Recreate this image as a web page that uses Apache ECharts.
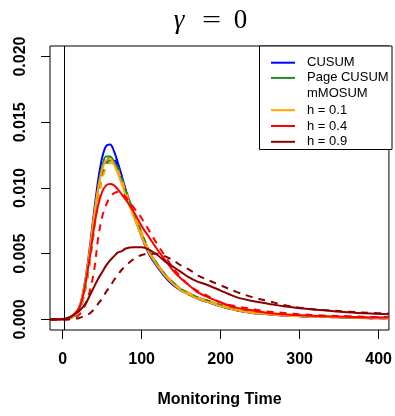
<!DOCTYPE html>
<html>
<head>
<meta charset="utf-8">
<script src="https://cdn.jsdelivr.net/npm/echarts@6/dist/echarts.min.js"></script>
<style>
  html, body { margin: 0; padding: 0; background: #fff; }
  #chart { width: 395px; height: 416px; }
</style>
</head>
<body>
<div id="chart"></div>
<script>
// monitoring time grid
const times = [-16, 0, 10, 20, 25, 30, 35, 40, 45, 50, 55, 60, 65, 70, 75, 80, 90, 100, 110, 120,
  130, 140, 150, 160, 170, 180, 200, 220, 240, 260, 280, 300, 330, 360, 390, 413];

// densities
const cusumSolid = [0, 0.00002, 0.0001, 0.0008, 0.0018, 0.0035, 0.0058, 0.0083, 0.0106, 0.0123, 0.0132, 0.0133, 0.0128, 0.0119, 0.0109, 0.0098, 0.0080, 0.0063, 0.0049, 0.0040,
  0.0032, 0.0026, 0.0022, 0.0019, 0.0016, 0.0014, 0.0010, 0.0007, 0.0005, 0.0004, 0.0003, 0.00025, 0.0002, 0.00015, 0.0001, 0.0001];
const cusumDashed = [0, 0.00002, 0.0001, 0.0006, 0.0014, 0.0028, 0.0048, 0.0072, 0.0095, 0.0112, 0.0120, 0.0123, 0.0122, 0.0116, 0.0108, 0.0098, 0.0081, 0.0065, 0.0051, 0.0041,
  0.0033, 0.0027, 0.0022, 0.0019, 0.0016, 0.0014, 0.0010, 0.0007, 0.0005, 0.0004, 0.0003, 0.00025, 0.0002, 0.00015, 0.0001, 0.0001];
const pageSolid = [0, 0.00002, 0.0001, 0.0007, 0.0016, 0.0032, 0.0054, 0.0078, 0.0100, 0.0116, 0.0124, 0.0124, 0.0120, 0.0113, 0.0105, 0.0096, 0.0080, 0.0065, 0.0051, 0.0042,
  0.0034, 0.0028, 0.0023, 0.0020, 0.0017, 0.0015, 0.0011, 0.0008, 0.0006, 0.00045, 0.00035, 0.0003, 0.00022, 0.00017, 0.00013, 0.00012];
const pageDashed = [0, 0.00002, 0.0001, 0.0006, 0.0013, 0.0027, 0.0046, 0.0069, 0.0091, 0.0108, 0.0117, 0.0121, 0.0120, 0.0115, 0.0107, 0.0098, 0.0082, 0.0066, 0.0052, 0.0042,
  0.0034, 0.0028, 0.0023, 0.0020, 0.0017, 0.0015, 0.0011, 0.0008, 0.0006, 0.00045, 0.00035, 0.0003, 0.00022, 0.00017, 0.00013, 0.00012];
const h01Solid = [0, 0.00002, 0.0001, 0.0008, 0.0018, 0.0034, 0.0056, 0.0080, 0.0100, 0.0114, 0.0121, 0.0122, 0.0118, 0.0111, 0.0103, 0.0094, 0.0078, 0.0063, 0.0050, 0.0041,
  0.0033, 0.0027, 0.0022, 0.0019, 0.0016, 0.0014, 0.0010, 0.0007, 0.0005, 0.0004, 0.0003, 0.00025, 0.0002, 0.00015, 0.00012, 0.0001];
const h01Dashed = [0, 0.00002, 0.0001, 0.0006, 0.0014, 0.0028, 0.0047, 0.0070, 0.0091, 0.0107, 0.0115, 0.0119, 0.0118, 0.0113, 0.0106, 0.0097, 0.0081, 0.0066, 0.0052, 0.0042,
  0.0034, 0.0028, 0.0023, 0.0020, 0.0017, 0.0015, 0.0011, 0.0008, 0.0006, 0.00045, 0.00035, 0.0003, 0.00022, 0.00017, 0.00013, 0.00012];
const h04Solid = [0, 0.00003, 0.0002, 0.0008, 0.0016, 0.0031, 0.0050, 0.0071, 0.0087, 0.0097, 0.0102, 0.0103, 0.0102, 0.0099, 0.0095, 0.0091, 0.0082, 0.0071, 0.0062, 0.0053,
  0.0045, 0.0037, 0.0031, 0.0026, 0.0021, 0.0018, 0.0013, 0.0009, 0.0007, 0.0005, 0.0004, 0.00033, 0.00025, 0.0002, 0.00016, 0.00015];
const h04Dashed = [0, 0, 0.00005, 0.0003, 0.0007, 0.0013, 0.0023, 0.0038, 0.0062, 0.0078, 0.0087, 0.0093, 0.0096, 0.0097, 0.0096, 0.0093, 0.0085, 0.0077, 0.0067, 0.0057,
  0.0048, 0.0039, 0.0032, 0.0026, 0.0022, 0.0019, 0.0013, 0.0010, 0.0008, 0.0006, 0.0005, 0.0004, 0.0003, 0.00025, 0.0002, 0.00018];
const h09Solid = [0, 0.00003, 0.0002, 0.0006, 0.0009, 0.0013, 0.0019, 0.0025, 0.0031, 0.0036, 0.0041, 0.0045, 0.0048, 0.0051, 0.0052, 0.0054, 0.0055, 0.0055, 0.0053, 0.0049,
  0.0044, 0.0040, 0.0036, 0.0032, 0.0029, 0.0027, 0.0022, 0.0017, 0.0014, 0.0012, 0.0010, 0.00085, 0.0007, 0.00055, 0.00045, 0.0004];
const h09Dashed = [0, 0, 0.00002, 0.0001, 0.0002, 0.0003, 0.0005, 0.0008, 0.0012, 0.0016, 0.0021, 0.0025, 0.0030, 0.0034, 0.0038, 0.0041, 0.0046, 0.0049, 0.0050, 0.0050,
  0.0048, 0.0045, 0.0041, 0.0038, 0.0034, 0.0031, 0.0026, 0.0021, 0.0017, 0.0014, 0.0011, 0.0009, 0.00072, 0.0006, 0.0005, 0.00045];

const xTicks = [0, 100, 200, 300, 400];
const yTicks = [0, 0.005, 0.010, 0.015, 0.020];
const changePoint = 2.5;

const legendItems = [
  {name: 'CUSUM', color: '#0000ff'},
  {name: 'Page CUSUM', color: '#228b22'},
  {name: 'mMOSUM', color: null},
  {name: 'h = 0.1', color: '#ffa500'},
  {name: 'h = 0.4', color: '#ff0000'},
  {name: 'h = 0.9', color: '#8b0000'}
];

function makeSerie(name, values, color, dashed) {
  return {
    name: name,
    type: 'line',
    data: times.map((t, i) => [t, values[i]]),
    smooth: 0.35,
    showSymbol: false,
    silent: true,
    lineStyle: {color: color, width: 2, type: dashed ? [7, 6] : 'solid'}
  };
}

let series = [
  makeSerie('CUSUM', cusumSolid, '#0000ff', false),
  makeSerie('CUSUM dashed', cusumDashed, '#0000ff', true),
  makeSerie('Page CUSUM', pageSolid, '#228b22', false),
  makeSerie('Page CUSUM dashed', pageDashed, '#228b22', true),
  makeSerie('h = 0.1', h01Solid, '#ffa500', false),
  makeSerie('h = 0.1 dashed', h01Dashed, '#ffa500', true),
  makeSerie('h = 0.4', h04Solid, '#ff0000', false),
  makeSerie('h = 0.4 dashed', h04Dashed, '#ff0000', true),
  makeSerie('h = 0.9', h09Solid, '#8b0000', false),
  makeSerie('h = 0.9 dashed', h09Dashed, '#8b0000', true)
];

// vertical reference line
series[0].markLine = {
  silent: true,
  symbol: 'none',
  label: {show: false},
  lineStyle: {color: '#000', width: 1, type: 'solid'},
  data: [{xAxis: changePoint}]
};

// legend box drawn by hand (mMOSUM is a header without a line)
let legendGraphics = [{
  type: 'rect',
  shape: {x: 259.5, y: 46, width: 132.5, height: 103.5},
  style: {fill: '#fff', stroke: '#000', lineWidth: 1}
}];
const rowY = [62.7, 77.9, 93.2, 110.2, 126, 141.8];
legendItems.forEach((item, i) => {
  if (item.color) {
    legendGraphics.push({
      type: 'line',
      shape: {x1: 271, y1: rowY[i], x2: 295, y2: rowY[i]},
      style: {stroke: item.color, lineWidth: 2}
    });
  }
  legendGraphics.push({
    type: 'text',
    x: 307, y: rowY[i],
    style: {text: item.name, fill: '#000', font: '13px "Liberation Sans", Arial, sans-serif', verticalAlign: 'middle'}
  });
});

// title pieces
const titleFont = '"Liberation Serif", "DejaVu Serif", serif';
legendGraphics.push(
  {type: 'text', x: 179, y: 21, style: {text: 'γ', fill: '#000', font: 'italic 27px ' + titleFont, align: 'center', verticalAlign: 'middle'}},
  {type: 'text', x: 211.5, y: 21, scaleX: 1.3, style: {text: '=', fill: '#000', font: '26px ' + titleFont, align: 'center', verticalAlign: 'middle'}},
  {type: 'text', x: 240.5, y: 21, style: {text: '0', fill: '#000', font: '27px ' + titleFont, align: 'center', verticalAlign: 'middle'}}
);

const labelFont = {color: '#000', fontFamily: '"Liberation Sans", Arial, sans-serif', fontWeight: 'bold', fontSize: 16};

let option = {
  animation: false,
  backgroundColor: '#fff',
  grid: {left: 50, right: 3, top: 46, bottom: 86, show: true, borderColor: '#000', borderWidth: 1, backgroundColor: 'transparent'},
  xAxis: {
    type: 'value',
    min: -16,
    max: 413,
    name: 'Monitoring Time',
    nameLocation: 'middle',
    nameGap: 62,
    nameTextStyle: labelFont,
    axisLine: {show: false, onZero: false},
    axisTick: {show: true, inside: false, length: 9, lineStyle: {color: '#000'}, customValues: xTicks},
    axisLabel: Object.assign({margin: 22, customValues: xTicks}, labelFont),
    splitLine: {show: false}
  },
  yAxis: {
    type: 'value',
    min: -0.0008,
    max: 0.0208,
    axisLine: {show: false, onZero: false},
    axisTick: {show: true, inside: false, length: 9, lineStyle: {color: '#000'}, customValues: yTicks},
    axisLabel: Object.assign({margin: 21, rotate: 90, customValues: yTicks, formatter: (v) => v.toFixed(3)}, labelFont),
    splitLine: {show: false}
  },
  graphic: legendGraphics,
  series: series
};

let chart = echarts.init(document.getElementById('chart'), null, {renderer: 'canvas'});
chart.setOption(option);
</script>
</body>
</html>
